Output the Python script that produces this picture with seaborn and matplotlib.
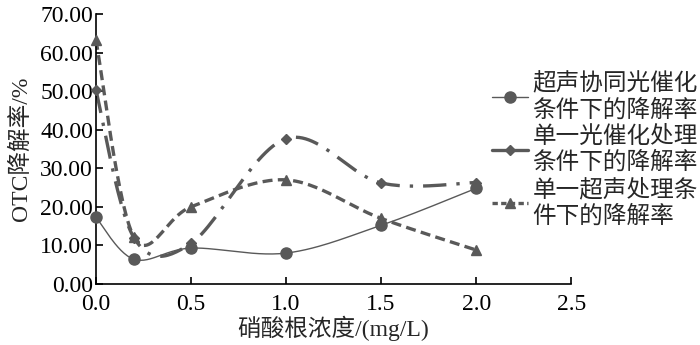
import numpy as np
import seaborn as sns
import matplotlib.pyplot as plt
from matplotlib.lines import Line2D
from matplotlib.ticker import FormatStrFormatter

# ---- data ----
conc = [0.0, 0.2, 0.5, 1.0, 1.5, 2.0]
synergy = [17.3, 6.4, 9.3, 8.0, 15.2, 24.8]
photo_only = [50.3, 12.0, 10.5, 37.7, 26.2, 26.3]
ultra_only = [63.3, 12.2, 20.0, 27.0, 17.0, 8.8]

labels = ['超声协同光催化\n条件下的降解率',
          '单一光催化处理\n条件下的降解率',
          '单一超声处理条\n件下的降解率']

sns.set_theme(style='ticks')
plt.rcParams['font.family'] = ['Liberation Serif', 'Noto Sans CJK SC']
plt.rcParams['axes.unicode_minus'] = False


def smooth(x, y, sx=190.0, sy=3.86, n=30):
    # excel-like bezier smoothing, computed in screen-ish units
    p = np.column_stack([np.asarray(x) * sx, np.asarray(y) * sy])
    pts = np.vstack([p[0], p, p[-1]])
    out = []
    t = np.linspace(0, 1, n)[:, None]
    for i in range(1, len(pts) - 2):
        p0, p1, p2, p3 = pts[i - 1], pts[i], pts[i + 1], pts[i + 2]
        c1 = p1 + (p2 - p0) / 6
        c2 = p2 - (p3 - p1) / 6
        seg = ((1 - t) ** 3) * p1 + 3 * ((1 - t) ** 2) * t * c1 + 3 * (1 - t) * t ** 2 * c2 + t ** 3 * p2
        out.append(seg)
    out = np.vstack(out)
    return out[:, 0] / sx, out[:, 1] / sy


fig = plt.figure(figsize=(7, 3.45), dpi=100)
ax = fig.add_axes([0.137, 0.177, 0.679, 0.782])

grey = '#595959'
series = [
    (synergy, 'o', 8, 1.0, None),
    (photo_only, 'D', 5.5, 2.4, (7, 3, 1, 3)),
    (ultra_only, '^', 7.5, 2.4, (3, 1.6)),
]

handles = []
for vals, mk, ms, lw, dashes in series:
    xs, ys = smooth(conc, vals)
    sns.lineplot(x=xs, y=ys, ax=ax, color=grey, lw=lw, sort=False,
                 estimator=None, clip_on=False)
    if dashes is not None:
        ax.lines[-1].set_dashes(dashes)
    ax.plot(conc, vals, linestyle='none', marker=mk, markersize=ms,
            color=grey, clip_on=False, zorder=5)
    h = Line2D([], [], color=grey, lw=lw, marker=mk, markersize=ms)
    if mk == '^':
        h.set_dashes((1.6, 1))
    handles.append(h)

ax.set_xlim(0, 2.5)
ax.set_ylim(0, 70)
ax.set_xticks([0.0, 0.5, 1.0, 1.5, 2.0, 2.5])
ax.set_yticks(np.arange(0, 71, 10))
ax.xaxis.set_major_formatter(FormatStrFormatter('%.1f'))
ax.yaxis.set_major_formatter(FormatStrFormatter('%.2f'))
ax.tick_params(direction='in', length=5, width=1.2, labelsize=17, colors='black')
ax.tick_params(axis='x', pad=7)
ax.tick_params(axis='y', pad=2)
for s in ['left', 'bottom']:
    ax.spines[s].set_color('black')
    ax.spines[s].set_linewidth(1.2)
sns.despine(ax=ax)

ax.set_xlabel('硝酸根浓度/(mg/L)', fontsize=17, labelpad=1)
ax.set_ylabel('OTC降解率/%', fontsize=17, labelpad=6)

fig.legend(handles, labels, loc='upper left', bbox_to_anchor=(0.69, 0.815),
           frameon=False, fontsize=17, handlelength=1.5, handletextpad=0.2,
           labelspacing=0.2, borderaxespad=0)

fig.savefig('out.png', dpi=100)
